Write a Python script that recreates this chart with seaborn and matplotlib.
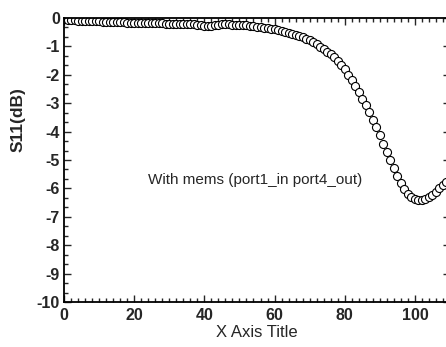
import numpy as np
import pandas as pd
import seaborn as sns
import matplotlib.pyplot as plt
from matplotlib.ticker import MultipleLocator

x_vals = list(range(0, 111))
s11_db = [
    -0.05, -0.07, -0.08, -0.08, -0.09, -0.10, -0.10, -0.11, -0.11, -0.12,
    -0.12, -0.13, -0.13, -0.14, -0.14, -0.15, -0.15, -0.15, -0.16, -0.16,
    -0.17, -0.17, -0.17, -0.18, -0.18, -0.18, -0.19, -0.19, -0.19, -0.20,
    -0.20, -0.20, -0.20, -0.21, -0.21, -0.21, -0.21, -0.22, -0.23, -0.25,
    -0.27, -0.29, -0.27, -0.24, -0.23, -0.22, -0.22, -0.22, -0.23, -0.23,
    -0.24, -0.25, -0.26, -0.27, -0.29, -0.30, -0.32, -0.34, -0.36, -0.38,
    -0.40, -0.43, -0.46, -0.49, -0.52, -0.55, -0.59, -0.63, -0.68, -0.73,
    -0.78, -0.85, -0.93, -1.01, -1.09, -1.18, -1.28, -1.38, -1.50, -1.64,
    -1.80, -1.99, -2.20, -2.41, -2.62, -2.84, -3.06, -3.31, -3.58, -3.85,
    -4.12, -4.42, -4.72, -5.00, -5.27, -5.55, -5.82, -6.02, -6.18, -6.30,
    -6.38, -6.42, -6.42, -6.37, -6.30, -6.22, -6.12, -6.00, -5.88, -5.76,
    -5.65,
]
y_ticks = list(range(-10, 1))
x_ticks = [0, 20, 40, 60, 80, 100]
note = "With mems (port1_in port4_out)"

df = pd.DataFrame({"x": x_vals, "S11": s11_db})

sns.set_style("ticks")
plt.rcParams["font.family"] = ["Liberation Sans", "DejaVu Sans"]
plt.rcParams["axes.unicode_minus"] = False

fig = plt.figure(figsize=(4.46, 3.47), dpi=100)
ax = fig.add_axes([64 / 446, 1 - 302 / 347, 386 / 446, 284 / 347])

sns.lineplot(data=df, x="x", y="S11", ax=ax, linestyle="none", marker="o",
             markersize=5.8, markerfacecolor="white", markeredgecolor="black",
             markeredgewidth=0.8, color="black")

ax.set_xlim(0, 110)
ax.set_ylim(-10, 0)
ax.set_xticks(x_ticks)
ax.set_yticks(y_ticks)
ax.xaxis.set_minor_locator(MultipleLocator(2))
ax.yaxis.set_minor_locator(MultipleLocator(1 / 3))
ax.tick_params(which="both", direction="in", top=True, right=True,
               width=1, labelsize=11.5, pad=3)
ax.tick_params(axis="x", pad=4)
ax.tick_params(which="major", length=5)
ax.tick_params(which="minor", length=3)
for lab in ax.get_xticklabels() + ax.get_yticklabels():
    lab.set_fontweight("bold")
for s in ax.spines.values():
    s.set_linewidth(1.3)
    s.set_color("black")

ax.set_xlabel("X Axis Title", fontsize=12, labelpad=2)
ax.set_ylabel("")
fig.text(18 / 446, 1 - 120 / 347, "S11(dB)", fontsize=12.5, fontweight="bold",
         rotation=90, ha="center", va="center")
ax.text(54.5, -5.7, note, fontsize=11, ha="center", va="center")

fig.savefig("out.png", dpi=100)
